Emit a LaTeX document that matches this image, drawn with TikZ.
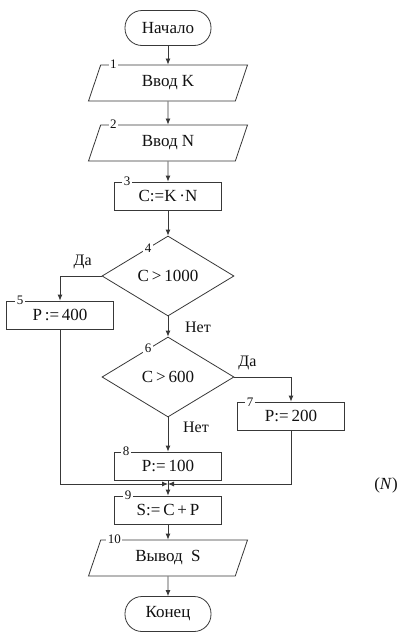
\documentclass[tikz,border=0pt]{standalone}
\usepackage{fontspec}
\setmainfont{Liberation Serif}
\usepackage{xcolor}
\usepackage{tikz}
\usetikzlibrary{positioning,arrows.meta,calc,shapes.geometric}
\definecolor{FCline}{HTML}{383838}
\definecolor{FCtext}{HTML}{111111}
\newcommand{\boxfont}{\rmfamily\fontsize{17}{19}\selectfont}
\tikzset{
  termbox/.style={rounded corners=17pt, draw=FCline, line width=0.8pt, minimum width=86pt, minimum height=35pt, font=\boxfont, text=FCtext},
  iobox/.style={trapezium, trapezium left angle=60, trapezium right angle=120, trapezium stretches body, draw=FCline, line width=0.8pt, minimum width=159pt, minimum height=36pt, inner xsep=0pt, font=\boxfont, text=FCtext},
  procbox/.style={rectangle, draw=FCline, line width=0.8pt, minimum width=107pt, minimum height=28pt, font=\boxfont, text=FCtext},
  decbox/.style={diamond, aspect=1.65, draw=FCline, line width=0.8pt, minimum width=132pt, minimum height=80pt, inner sep=0pt, font=\boxfont, text=FCtext},
  numlbl/.style={fill=white, inner sep=1.5pt, font=\rmfamily\fontsize{13}{13}\selectfont, text=FCtext},
  yesno/.style={inner sep=0pt, font=\rmfamily\fontsize{16}{16}\selectfont, text=FCtext},
  flowarr/.style={-{Latex[length=6pt, width=5pt]}, line width=0.8pt, draw=FCline},
  flowline/.style={line width=0.8pt, draw=FCline}
}

\begin{document}
\begin{tikzpicture}[x=1pt, y=-1pt]
\fill[white] (0,0) rectangle (404,635);
\useasboundingbox (0,0) rectangle (404,635);
% main column
\node[termbox] (start) at (168,28) {Начало};
\node[iobox] (in1) at (168,83) {Ввод K};
\node[iobox] (in2) at (168,143) {Ввод N};
\node[procbox] (b3) at (168,196) {C:=K\,·N};
\node[decbox] (d4) at (168,276) {C\,>\,1000};
\node[decbox] (d6) at (168,377) {C\,>\,600};
\node[procbox] (b8) at (168,466) {P:=\,100};
\coordinate (m) at (168,484);
\node[procbox] (b9) at (168,510) {S:=\,C\,+\,P};
\node[iobox] (out10) at (168,558) {Вывод\ \ S};
\node[termbox] (stop) at (168,614) {Конец};
% side branches
\node[procbox] (b5) at (60,315) {P\,:=\,400};
\node[procbox] (b7) at (291,416) {P:=\,200};
\node[font=\boxfont, text=FCtext] (nvar) at (386,485) {(\textit{N})};
% block numbers
\node[numlbl] (n1) at ([xshift=13pt]in1.top left corner) {1};
\node[numlbl] (n2) at ([xshift=13pt]in2.top left corner) {2};
\node[numlbl] (n3) at ([xshift=13pt]b3.north west) {3};
\node[numlbl] (n4) at ($(d4.west)!0.7!(d4.north)$) {4};
\node[numlbl] (n5) at ([xshift=14pt]b5.north west) {5};
\node[numlbl] (n6) at ($(d6.west)!0.7!(d6.north)$) {6};
\node[numlbl] (n7) at ([xshift=13pt,yshift=-1pt]b7.north west) {7};
\node[numlbl] (n8) at ([xshift=12pt]b8.north west) {8};
\node[numlbl] (n9) at ([xshift=14pt]b9.north west) {9};
\node[numlbl] (n10) at ([xshift=14pt]out10.top left corner) {10};
% answers
\node[yesno] (yes4) at ([xshift=-19pt,yshift=14pt]d4.west) {Да};
\node[yesno] (no4) at ([xshift=30pt,yshift=-11pt]d4.south) {Нет};
\node[yesno] (yes6) at ([xshift=13pt,yshift=14pt]d6.east) {Да};
\node[yesno] (no6) at ([xshift=28pt,yshift=-10pt]d6.south) {Нет};
% connectors
\draw[flowarr] (start) -- (in1);
\draw[flowarr] (in1) -- (in2);
\draw[flowarr] (in2) -- (b3);
\draw[flowarr] (b3) -- (d4);
\draw[flowarr] (d4.west) -| (b5.north);
\draw[flowarr] (d4) -- (d6);
\draw[flowarr] (d6.east) -| (b7.north);
\draw[flowarr] (d6) -- (b8);
\draw[flowarr] (b5.south) |- (m);
\draw[flowarr] (b7.south) |- (m);
\draw[flowline] (b8) -- (m);
\draw[flowarr] (m) -- (b9);
\draw[flowarr] (b9) -- (out10);
\draw[flowarr] (out10) -- (stop);
\end{tikzpicture}
\end{document}
